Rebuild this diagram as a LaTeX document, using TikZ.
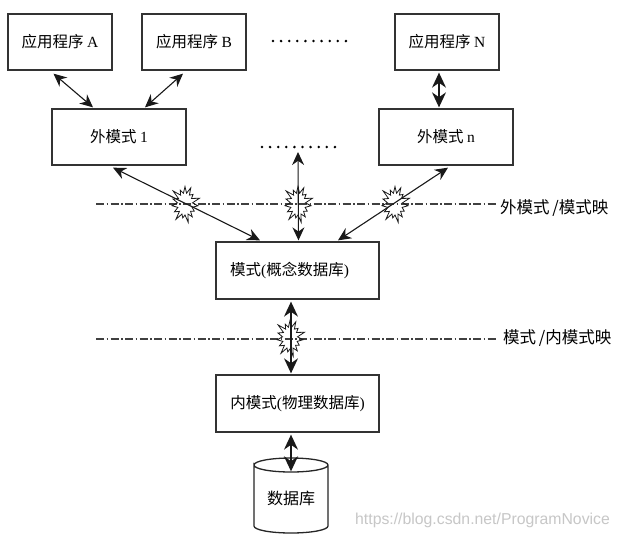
\documentclass[tikz,border=0pt]{standalone}
\usepackage{fontspec}
\setmainfont{Liberation Serif}
\newfontfamily\cjk{Noto Sans CJK SC}
\newfontfamily\wm{Liberation Sans}
\usetikzlibrary{arrows.meta,shapes.symbols,calc}
\tikzset{
  box/.style={draw=black!80,line width=1.3pt,inner sep=0pt,font=\fontsize{15.5}{18}\selectfont},
  appbox/.style={box,minimum width=104pt,minimum height=56pt},
  extbox/.style={box,minimum width=134pt,minimum height=56pt},
  schbox/.style={box,minimum width=163pt,minimum height=57pt},
  conn/.style={black!90,line width=1.1pt,{Stealth[length=13pt,width=12pt]}-{Stealth[length=13pt,width=12pt]}},
  bigconn/.style={black!90,line width=1.3pt,{Stealth[length=15pt,width=14pt]}-{Stealth[length=15pt,width=14pt]}},
  mapline/.style={black!75,line width=1.1pt,dash pattern=on 8pt off 2.5pt on 1.5pt off 2.5pt},
  burst/.style={draw=black!90,line width=0.8pt,starburst,starburst points=15,starburst point height=9pt,minimum width=33pt,minimum height=40pt,inner sep=0pt},
  dotrow/.style={black,line width=2.8pt,line cap=round,dash pattern=on 0pt off 8.1pt},
  maplabel/.style={font=\fontsize{16.5}{18}\selectfont,inner sep=0pt,anchor=west},
  watermark/.style={font=\wm\fontsize{15.8}{18}\selectfont,text=black!22,inner sep=0pt,anchor=west}
}
\begin{document}
\begin{tikzpicture}[x=1pt,y=-1pt]
\useasboundingbox (0,0) rectangle (619,539);
\fill[white] (0,0) rectangle (619,539);

% boxes
\node[appbox] (A) at (60,42) {\cjk 应用程序\ {\rmfamily A}};
\node[appbox] (B) at (194,42) {\cjk 应用程序\ {\rmfamily B}};
\node[appbox] (N) at (447,42) {\cjk 应用程序\ {\rmfamily N}};
\node[extbox] (E1) at (119,137) {\cjk 外模式\ {\rmfamily 1}};
\node[extbox] (En) at (446,137) {\cjk 外模式\ {\rmfamily n}};
\node[schbox] (S) at (297.5,270.5) {\cjk 模式{\rmfamily (}概念数据库{\rmfamily )}\hspace*{16pt}};
\node[schbox] (I) at (297.5,403.5) {\cjk 内模式{\rmfamily (}物理数据库{\rmfamily )}};

% database
\node[inner sep=0pt,minimum width=74pt,minimum height=75pt,font=\fontsize{16}{18}\selectfont,text depth=0pt] (DB) at (291,496) {\raisebox{-3pt}{\cjk 数据库}};
\begin{scope}[shift={(DB.center)},black!85,line width=1.3pt]
  \draw (-37,-31) .. controls (-37,-35) and (-20,-38) .. (0,-38) .. controls (20,-38) and (37,-35) .. (37,-31)
        .. controls (37,-27) and (20,-24) .. (0,-24) .. controls (-20,-24) and (-37,-27) .. (-37,-31)
        -- (-37,30) .. controls (-37,34) and (-20,37) .. (0,37) .. controls (20,37) and (37,34) .. (37,30) -- (37,-31);
\end{scope}

% dots
\coordinate (dotsT1) at (273,41);
\coordinate (dotsT2) at (348,41);
\coordinate (dotsM1) at (262,147);
\coordinate (dotsM2) at (337,147);
\draw[dotrow] (dotsT1) -- (dotsT2);
\draw[dotrow] (dotsM1) -- (dotsM2);

% mapping lines
\coordinate (m1a) at (96,204);
\coordinate (m1b) at (497,204);
\coordinate (m2a) at (96,339);
\coordinate (m2b) at (497,339);
\draw[mapline] (m1a) -- (m1b);
\draw[mapline] (m2a) -- (m2b);
\node[maplabel] (L1) at (500,208) {\cjk 外模式\,/模式映};
\node[maplabel] (L2) at (503,338) {\cjk 模式\,/内模式映};

% connectors
\draw[conn] ($(A.south)+(-6.5,3)$) -- ($(E1.north)+(-26,-1)$);
\draw[conn] ($(B.south)+(-11,3)$) -- ($(E1.north)+(26,-1)$);
\draw[bigconn] ($(N.south)+(-8,2)$) -- ($(En.north)+(-7,-1)$);
\draw[conn] ($(E1.south)+(-6,2)$) -- ($(S.north)+(-37.5,-1)$);
\draw[conn] ($(S.north)+(1,-1)$) -- ($(dotsM1)!0.48!(dotsM2)+(0,5)$);
\draw[conn] ($(En.south)+(2,2)$) -- ($(S.north)+(40.5,-1)$);
\draw[bigconn] ($(S.south)+(-6.5,2)$) -- ($(I.north)+(-6.5,-1)$);
\draw[bigconn] ($(I.south)+(-6.5,2)$) -- ($(DB.north)+(0,13)$);

% bursts
\node[burst] (b1) at (185,204) {};
\node[burst] (b2) at (298,204) {};
\node[burst] (b3) at (395,204) {};
\node[burst] (b4) at (290,338) {};

% watermark
\node[watermark] (W) at (355,520) {https://blog.csdn.net/ProgramNovice};
\end{tikzpicture}
\end{document}
